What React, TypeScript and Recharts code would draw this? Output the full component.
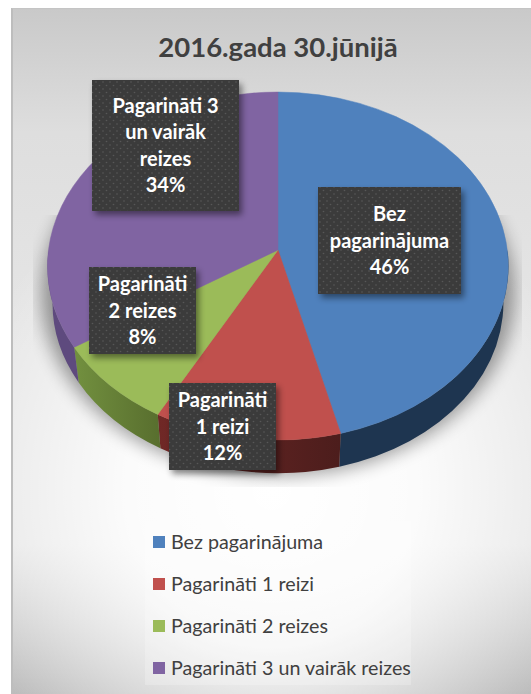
import { Legend, Pie, PieChart } from 'recharts'

const CATEGORIES = ['Bez pagarinājuma', 'Pagarināti 1 reizi', 'Pagarināti 2 reizes', 'Pagarināti 3 un vairāk reizes']
const SHARES = [46, 12, 8, 34]
const LABEL_LINES = [['Bez', 'pagarinājuma'], ['Pagarināti', '1 reizi'], ['Pagarināti', '2 reizes'], ['Pagarināti 3', 'un vairāk', 'reizes']]
const FACE_COLORS = ['#4f81bd', '#c0504d', '#9bbb59', '#8064a2']
const WALL_COLORS = ['#1e3550', 'url(#redWall)', 'url(#greenWall)', '#5e4a7e']

// label boxes sit where the original author dragged them: [x, y, width, height]
const LABEL_BOXES = [
  [318, 187, 143, 107],
  [169, 383, 107, 87],
  [89, 267, 107, 87],
  [92, 80, 147, 131],
]

const WIDTH = 531
const HEIGHT = 694
const CX = 278
const CY = 250 // apex of the pie
const RADIUS = 229.5

// perspective of the 3d pie, measured from the slice corners in the picture
const TILT = 172.5 / RADIUS
const PERSPECTIVE = 0.092
const RIM_CENTRE_DROP = 16 // rim ellipse centre lies below the apex
const RIM_RY = 174 / RADIUS
const RIM_RX = 230.5 / RADIUS
const DEPTH_DROP = 37 // bottom ellipse centre below the top one
const DEPTH_SCALE = 0.978 // bottom ellipse is a bit smaller

const FONT = "Lato, 'Open Sans', sans-serif"

const faceData = CATEGORIES.map((name, i) => ({ name, value: SHARES[i], fill: FACE_COLORS[i] }))
const wallData = CATEGORIES.map((name, i) => ({ name, value: SHARES[i], fill: WALL_COLORS[i] }))

const rim = (cx: number, cy: number, r: number, deg: number) => {
  const a = (deg * Math.PI) / 180
  const w = 1 + PERSPECTIVE * Math.sin(a)
  return [cx + (r * Math.cos(a)) / w, cy - (r * TILT * Math.sin(a)) / w]
}

const lowerRim = (cx: number, cy: number, r: number, deg: number) => {
  const [x, y] = rim(cx, cy, r, deg)
  const centre = cy + RIM_CENTRE_DROP
  return [cx + (x - cx) * DEPTH_SCALE, centre + DEPTH_DROP + (y - centre) * DEPTH_SCALE]
}

function FaceSector(props: any) {
  const { cx, cy, outerRadius: r, startAngle: s, endAngle: e, fill } = props
  const large = Math.abs(s - e) > 180 ? 1 : 0
  const [x0, y0] = rim(cx, cy, r, s)
  const [x1, y1] = rim(cx, cy, r, e)
  const d = `M${cx},${cy} L${x0},${y0} A${r * RIM_RX},${r * RIM_RY} 0 ${large} 1 ${x1},${y1} Z`
  return <path d={d} fill={fill} stroke={fill} strokeWidth={0.5} />
}

// side wall, only the part on the near half of the pie is visible
function WallSector(props: any) {
  const { cx, cy, outerRadius: r, startAngle: s, endAngle: e, fill } = props
  const a = Math.min(s, 0)
  const b = Math.max(e, -180)
  if (a <= b) return null
  const [x0, y0] = rim(cx, cy, r, a)
  const [x1, y1] = rim(cx, cy, r, b)
  const [x2, y2] = lowerRim(cx, cy, r, b)
  const [x3, y3] = lowerRim(cx, cy, r, a)
  const rx = r * RIM_RX
  const ry = r * RIM_RY
  const d = `M${x0},${y0} A${rx},${ry} 0 0 1 ${x1},${y1} L${x2},${y2} A${rx * DEPTH_SCALE},${ry * DEPTH_SCALE} 0 0 0 ${x3},${y3} Z`
  return <path d={d} fill={fill} />
}

function BoxLabel(props: any) {
  const { index, value } = props
  const [x, y, w, h] = LABEL_BOXES[index]
  const lines = [...LABEL_LINES[index], `${value}%`]
  const lineHeight = 26.2
  const first = y + h / 2 - ((lines.length - 1) * lineHeight) / 2
  return (
    <g>
      <rect x={x} y={y} width={w} height={h} fill="#3a3a3a" filter="url(#boxShadow)" />
      <rect x={x} y={y} width={w} height={h} fill="url(#dots)" />
      <text x={x + w / 2} textAnchor="middle" fontFamily={FONT} fontWeight={700} fontSize={20} fill="#ffffff">
        {lines.map((line, i) => (
          <tspan key={line} x={x + w / 2} y={first + i * lineHeight + 7}>
            {line}
          </tspan>
        ))}
      </text>
    </g>
  )
}

function LegendRows({ payload }: any) {
  const rows = (payload || []).filter((entry: any) => FACE_COLORS.includes(entry.color))
  return (
    <div style={{ background: 'rgba(255,255,255,0.22)', padding: '0 0 0 8px', height: 164, width: 258 }}>
      {rows.map((entry: any) => (
        <div key={entry.value} style={{ display: 'flex', alignItems: 'center', height: 42 }}>
          <span style={{ width: 12, height: 12, background: entry.color, marginRight: 6, flexShrink: 0 }} />
          <span style={{ fontFamily: FONT, fontSize: 19.7, color: '#404040', whiteSpace: 'nowrap', position: 'relative', top: -1 }}>
            {entry.value}
          </span>
        </div>
      ))}
    </div>
  )
}

export default function App() {
  return (
    <div style={{ position: 'absolute', left: 0, top: 0, width: WIDTH, height: HEIGHT, background: '#fff', overflow: 'hidden' }}>
      <div
        style={{
          position: 'absolute',
          left: 11,
          top: 8,
          width: 518,
          height: 686,
          borderLeft: '2px solid #bdbdbd',
          borderTop: '1px solid #c4c4c4',
          background:
            'radial-gradient(ellipse 62% 50% at 50% 70%, #ffffff 0%, rgba(255,255,255,0.85) 45%, rgba(255,255,255,0) 100%), linear-gradient(180deg, #c9c9c9 0%, #dedede 18%, #e6e6e6 50%, #e6e6e6 78%, #bcbcbc 100%)',
        }}
      />
      <PieChart width={WIDTH} height={HEIGHT} margin={{ top: 0, right: 0, bottom: 0, left: 0 }} style={{ position: 'absolute', left: 0, top: 0 }}>
        <defs>
          <linearGradient id="greenWall" x1="0" y1="0" x2="1" y2="0">
            <stop offset="0%" stopColor="#72903f" />
            <stop offset="100%" stopColor="#586e2e" />
          </linearGradient>
          <linearGradient id="redWall" x1="0" y1="0" x2="1" y2="0">
            <stop offset="0%" stopColor="#702826" />
            <stop offset="100%" stopColor="#4c1d1c" />
          </linearGradient>
          <pattern id="dots" width="7" height="7" patternUnits="userSpaceOnUse">
            <circle cx="1.5" cy="1.5" r="0.8" fill="#575757" />
            <circle cx="5" cy="5" r="0.8" fill="#575757" />
          </pattern>
          <filter id="boxShadow" x="-20%" y="-20%" width="150%" height="150%">
            <feDropShadow dx="3" dy="4" stdDeviation="3" floodColor="#000" floodOpacity="0.45" />
          </filter>
          <filter id="pieShadow" x="-20%" y="-20%" width="140%" height="140%">
            <feGaussianBlur stdDeviation="9" />
          </filter>
          <clipPath id="shadowClip">
            <rect x="33" y="215" width="489" height="272" />
          </clipPath>
        </defs>
        <g clipPath="url(#shadowClip)">
          <ellipse cx={CX} cy={CY + 44} rx={RADIUS + 7} ry={174 + 8} fill="#000" opacity={0.38} filter="url(#pieShadow)" />
        </g>
        <text x={278} y={57} textAnchor="middle" fontFamily={FONT} fontWeight={700} fontSize={27.5} fill="#404040">
          2016.gada 30.jūnijā
        </text>
        <Pie
          data={wallData}
          dataKey="value"
          nameKey="name"
          cx={CX}
          cy={CY}
          outerRadius={RADIUS}
          startAngle={90}
          endAngle={-270}
          stroke="none"
          legendType="none"
          shape={WallSector}
          isAnimationActive={false}
        />
        <Pie
          data={faceData}
          dataKey="value"
          nameKey="name"
          cx={CX}
          cy={CY}
          outerRadius={RADIUS}
          startAngle={90}
          endAngle={-270}
          stroke="none"
          shape={FaceSector}
          label={BoxLabel}
          labelLine={false}
          isAnimationActive={false}
        />
        <Legend
          layout="vertical"
          content={LegendRows}
          wrapperStyle={{ position: 'absolute', left: 145, top: 521, width: 266, height: 164, bottom: 'auto' }}
        />
      </PieChart>
    </div>
  )
}
